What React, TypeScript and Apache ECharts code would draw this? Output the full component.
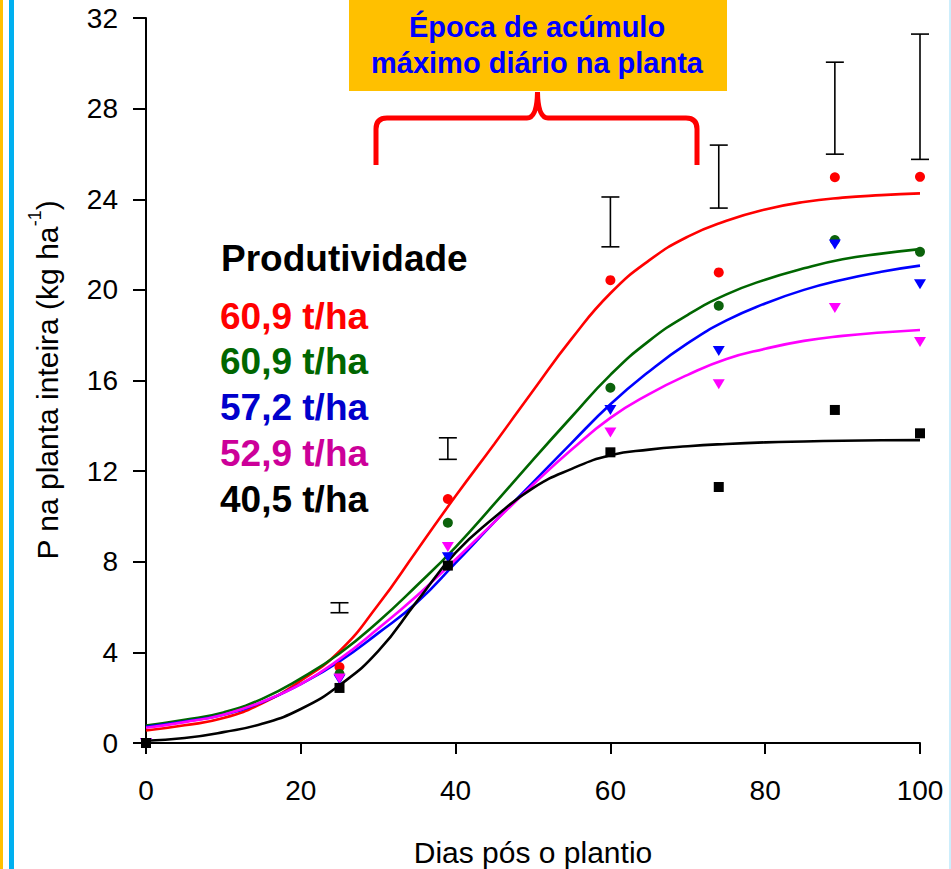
import React, { useEffect, useRef } from "react";
import * as echarts from "echarts";

// Observed data (days after planting vs P in whole plant, kg/ha)
const sampleDays = [0, 25, 39, 60, 74, 89, 100];
const redPoints = [0, 3.35, 10.77, 20.43, 20.77, 24.97, 24.99];
const greenPoints = [0, 3.05, 9.72, 15.68, 19.3, 22.2, 21.68];
const bluePoints = [0, 2.8, 8.2, 14.7, 17.3, 22.0, 20.25];
const magentaPoints = [0, 2.85, 8.65, 13.7, 15.84, 19.2, 17.7];
const blackPoints = [0, 2.43, 7.83, 12.83, 11.3, 14.7, 13.67];

// Fitted curves, every 5 days
const fitDays = [0, 5, 10, 15, 20, 25, 30, 35, 40, 45, 50, 55, 60, 65, 70, 75, 80, 85, 90, 95, 100];
const redFit = [0.55, 0.78, 1.1, 1.75, 2.75, 4.05, 6.1, 8.5, 10.9, 13.2, 15.55, 17.85, 19.85, 21.3, 22.35, 23.05, 23.55, 23.88, 24.07, 24.18, 24.26];
const greenFit = [0.77, 1.02, 1.35, 1.95, 2.85, 3.95, 5.35, 6.95, 8.65, 10.55, 12.5, 14.4, 16.25, 17.75, 18.9, 19.8, 20.45, 20.95, 21.35, 21.6, 21.8];
const blueFit = [0.72, 0.95, 1.25, 1.8, 2.6, 3.6, 4.85, 6.2, 7.95, 9.75, 11.5, 13.25, 14.95, 16.4, 17.65, 18.65, 19.4, 20.0, 20.45, 20.8, 21.07];
const magentaFit = [0.67, 0.92, 1.25, 1.82, 2.6, 3.7, 5.05, 6.5, 8.1, 9.75, 11.4, 12.95, 14.35, 15.4, 16.25, 16.95, 17.4, 17.75, 17.97, 18.12, 18.23];
const blackFit = [0.1, 0.22, 0.48, 0.85, 1.5, 2.55, 4.05, 6.25, 8.4, 9.95, 11.25, 12.1, 12.7, 12.95, 13.1, 13.2, 13.27, 13.31, 13.34, 13.36, 13.37];

// Error bars
const errDays = [25, 39, 60, 74, 89, 100];
const errLow = [5.75, 12.52, 21.9, 23.61, 25.99, 25.76];
const errHigh = [6.19, 13.47, 24.1, 26.39, 30.05, 31.29];

// Legend texts
const legendTitle = "Produtividade";
const legendLabels = ["60,9 t/ha", "60,9 t/ha", "57,2 t/ha", "52,9 t/ha", "40,5 t/ha"];
const legendColors = ["#ff0000", "#006600", "#0000cc", "#cc0099", "#000000"];

const annotationLines = ["Época de acúmulo", "máximo diário na planta"];
const xAxisName = "Dias pós o plantio";
const yAxisNameMain = "P na planta inteira (kg ha";
const yAxisNameSup = "-1";

const FONT = "'Liberation Sans', Arial, sans-serif";

let braceRegistered = false;
function registerBrace() {
  if (braceRegistered) return;
  const d =
    "M376,165 L376,129 Q376,118 387,118 L527,118 Q537,118 537.5,92 Q538,118 548,118 L686,118 Q697,118 697,129 L697,165";
  echarts.graphic.registerShape("brace", echarts.graphic.extendPath(d, {}));
  braceRegistered = true;
}

const zip = (xs: number[], ys: number[]) => xs.map((x, i) => [x, ys[i]]);

export default function App() {
  const ref = useRef<HTMLDivElement>(null);

  useEffect(() => {
    if (!ref.current) return;
    registerBrace();
    const chart = echarts.init(ref.current, null, { renderer: "svg" });

    const lineSeries = (data: number[], color: string) => ({
      type: "line",
      data: zip(fitDays, data),
      smooth: 0.5,
      showSymbol: false,
      lineStyle: { color, width: 2.6 },
      z: 2,
      silent: true,
    });

    const pointSeries = (data: number[], color: string, symbol: string, size: any, rotate = 0) => ({
      type: "scatter",
      data: zip(sampleDays, data),
      symbol,
      symbolSize: size,
      symbolRotate: rotate,
      itemStyle: { color, opacity: 1 },
      z: 4,
      silent: true,
    });

    const legendGraphics: any[] = [
      {
        type: "text",
        x: 221,
        y: 258,
        style: {
          text: legendTitle,
          font: `bold 37px ${FONT}`,
          fill: "#000",
          align: "left",
          verticalAlign: "middle",
        },
      },
    ];
    const legendYs = [316, 361, 407, 453, 499];
    legendLabels.forEach((t, i) => {
      legendGraphics.push({
        type: "text",
        x: 220,
        y: legendYs[i],
        style: {
          text: t,
          font: `bold 37px ${FONT}`,
          fill: legendColors[i],
          align: "left",
          verticalAlign: "middle",
        },
      });
    });

    const annotationGraphics: any[] = [
      { type: "rect", shape: { x: 349, y: 0, width: 378, height: 91 }, style: { fill: "#FFC000" } },
    ];
    const annYs = [27, 63];
    annotationLines.forEach((t, i) => {
      annotationGraphics.push({
        type: "text",
        x: 537,
        y: annYs[i],
        style: {
          text: t,
          font: `bold 29px ${FONT}`,
          fill: "#0000ff",
          align: "center",
          verticalAlign: "middle",
          shadowColor: "rgba(120,120,120,0.9)",
          shadowBlur: 0.5,
          shadowOffsetX: 2,
          shadowOffsetY: 1.5,
        },
      });
    });

    const option: any = {
      animation: false,
      backgroundColor: "#ffffff",
      grid: { left: 146, right: 31, top: 18, bottom: 126, containLabel: false },
      xAxis: {
        type: "value",
        min: 0,
        max: 100,
        interval: 20,
        axisLine: { show: true, lineStyle: { color: "#000", width: 2 } },
        axisTick: { show: true, length: 11, lineStyle: { color: "#000", width: 2 } },
        axisLabel: { color: "#000", fontSize: 28, fontFamily: FONT, margin: 33 },
        splitLine: { show: false },
      },
      yAxis: {
        type: "value",
        min: 0,
        max: 32,
        interval: 4,
        axisLine: { show: true, lineStyle: { color: "#000", width: 2 } },
        axisTick: { show: true, length: 13, lineStyle: { color: "#000", width: 2 } },
        axisLabel: { color: "#000", fontSize: 28, fontFamily: FONT, margin: 28 },
        splitLine: { show: false },
      },
      series: [
        lineSeries(redFit, "#ff0000"),
        lineSeries(greenFit, "#006600"),
        lineSeries(blueFit, "#0000ff"),
        lineSeries(magentaFit, "#ff00ff"),
        lineSeries(blackFit, "#000000"),
        pointSeries(redPoints, "#ff0000", "circle", 10),
        pointSeries(greenPoints, "#0b620b", "circle", 10),
        pointSeries(bluePoints, "#0000ff", "triangle", [12, 10], 180),
        pointSeries(magentaPoints, "#ff00ff", "triangle", [12, 10], 180),
        pointSeries(blackPoints, "#000000", "rect", 10),
        {
          type: "custom",
          data: errDays.map((d, i) => [d, errLow[i], errHigh[i]]),
          encode: { x: 0, y: [1, 2] },
          silent: true,
          z: 5,
          renderItem: (params: any, api: any) => {
            const lo = api.coord([api.value(0), api.value(1)]);
            const hi = api.coord([api.value(0), api.value(2)]);
            const w = 9;
            const st = { stroke: "#000", lineWidth: 1.6 };
            return {
              type: "group",
              children: [
                { type: "line", shape: { x1: lo[0], y1: lo[1], x2: hi[0], y2: hi[1] }, style: st },
                { type: "line", shape: { x1: lo[0] - w, y1: lo[1], x2: lo[0] + w, y2: lo[1] }, style: st },
                { type: "line", shape: { x1: hi[0] - w, y1: hi[1], x2: hi[0] + w, y2: hi[1] }, style: st },
              ],
            };
          },
        },
      ],
      graphic: [
        { type: "rect", shape: { x: 0, y: 0, width: 3, height: 869 }, style: { fill: "#FFC000" } },
        { type: "rect", shape: { x: 9, y: 0, width: 5, height: 869 }, style: { fill: "#00B0F0" } },
        { type: "rect", shape: { x: 949, y: 0, width: 2, height: 869 }, style: { fill: "#cdeefc" } },
        ...annotationGraphics,
        {
          type: "brace",
          x: 0,
          y: 0,
          style: { stroke: "#ff0000", lineWidth: 5, fill: "none" },
        },
        ...legendGraphics,
        {
          type: "text",
          x: 533,
          y: 852,
          style: {
            text: xAxisName,
            font: `30px ${FONT}`,
            fill: "#000",
            align: "center",
            verticalAlign: "middle",
          },
        },
        {
          type: "text",
          x: 44,
          y: 380,
          rotation: Math.PI / 2,
          style: {
            text: `{a|${yAxisNameMain}}{s|${yAxisNameSup}}{a|)}`,
            align: "center",
            verticalAlign: "middle",
            rich: {
              a: { fontSize: 30, fontFamily: FONT, fill: "#000", color: "#000", lineHeight: 36, verticalAlign: "bottom" },
              s: { fontSize: 18, fontFamily: FONT, fill: "#000", color: "#000", lineHeight: 36, verticalAlign: "top" },
            },
          },
        },
      ],
    };

    chart.setOption(option);
    return () => {
      chart.dispose();
    };
  }, []);

  return (
    <div
      ref={ref}
      style={{ position: "absolute", left: 0, top: 0, width: 951, height: 869, background: "#fff" }}
    />
  );
}
